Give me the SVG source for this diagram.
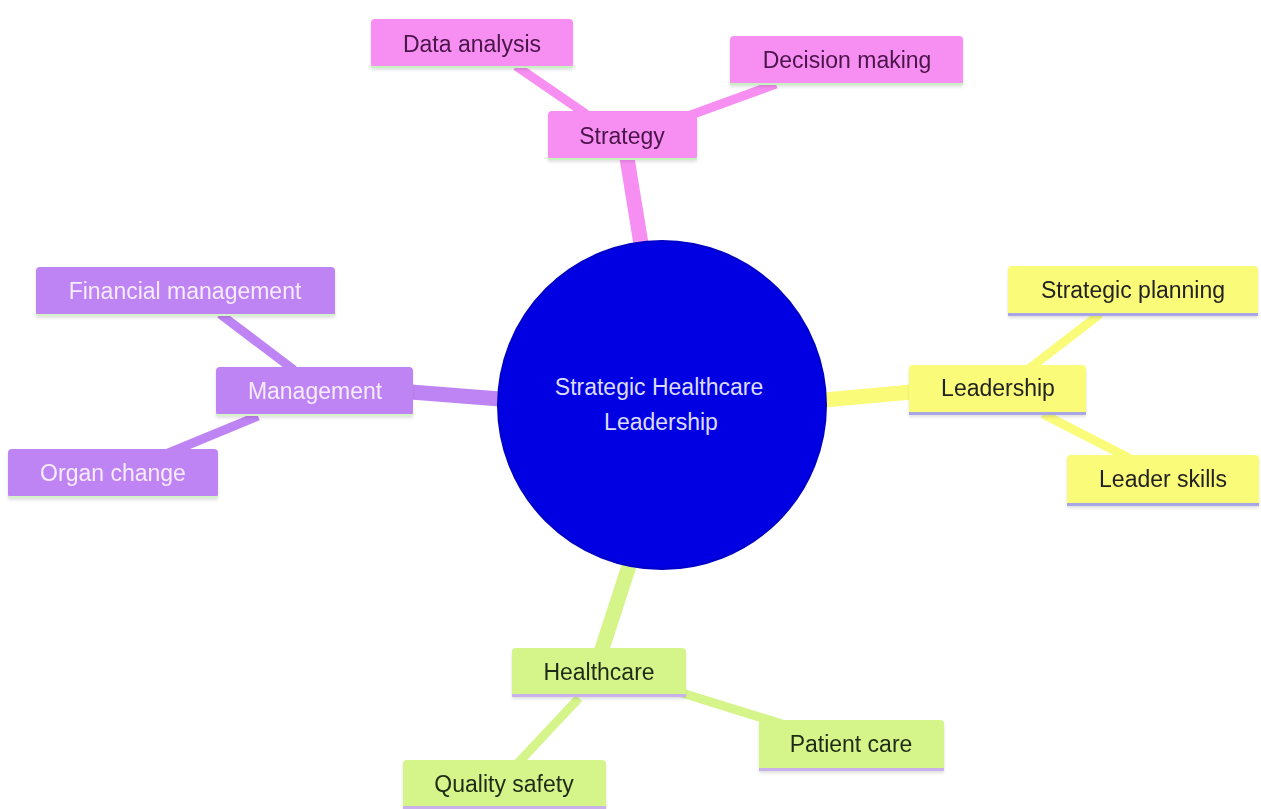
<svg xmlns="http://www.w3.org/2000/svg" width="1261" height="809" viewBox="0 0 1261 809">
<style>
  text { font-family: "Liberation Sans", Arial, sans-serif; font-size: 23px; text-anchor: middle; }
  .c1 { stroke-width: 15; stroke-linecap: butt; fill: none; }
  .c2 { stroke-width: 9; stroke-linecap: butt; fill: none; }
  .pink { fill: #f78ff2; }
  .pinkS { stroke: #f78ff2; }
  .pinkT { fill: #4a1248; }
  .purple { fill: #bf84f3; }
  .purpleS { stroke: #bf84f3; }
  .purpleT { fill: #f6ecff; }
  .yellow { fill: #fbfb7a; }
  .yellowS { stroke: #fbfb7a; }
  .yellowT { fill: #222222; }
  .green { fill: #d5f58b; }
  .greenS { stroke: #d5f58b; }
  .greenT { fill: #1e2a14; }
</style>
<defs>
  <filter id="sh" x="-10%" y="-20%" width="120%" height="150%">
    <feDropShadow dx="0" dy="2" stdDeviation="1.5" flood-color="#000" flood-opacity="0.12"/>
  </filter>
</defs>
<rect width="1261" height="809" fill="#ffffff"/>
<g id="connectors">
  <line class="c1 pinkS" x1="627" y1="158" x2="641" y2="244"/>
  <line class="c2 pinkS" x1="516" y1="66" x2="586" y2="114"/>
  <line class="c2 pinkS" x1="776" y1="84" x2="688" y2="116"/>
  <line class="c1 purpleS" x1="411" y1="392" x2="500" y2="399"/>
  <line class="c2 purpleS" x1="220" y1="314" x2="294" y2="370"/>
  <line class="c2 purpleS" x1="166" y1="454" x2="258" y2="416"/>
  <line class="c1 yellowS" x1="824" y1="400" x2="912" y2="392"/>
  <line class="c2 yellowS" x1="1100" y1="314" x2="1030" y2="368"/>
  <line class="c2 yellowS" x1="1043" y1="414" x2="1129" y2="458"/>
  <line class="c1 greenS" x1="629" y1="566" x2="601" y2="652"/>
  <line class="c2 greenS" x1="682" y1="693" x2="782" y2="724"/>
  <line class="c2 greenS" x1="579" y1="698" x2="517" y2="764"/>
</g>
<g id="root">
  <circle cx="662" cy="405" r="164" fill="#0000e2" stroke="#0000c8" stroke-width="2"/>
  <text x="659" y="395" fill="#dcdcff">Strategic Healthcare</text>
  <text x="661" y="430" fill="#dcdcff">Leadership</text>
</g>
<g id="strategy" filter="url(#sh)">
  <rect x="548" y="111" width="149" height="49" rx="4" class="pink"/>
  <rect x="548" y="158" width="149" height="2" fill="#c6f2bf"/>
  <text x="622" y="144" class="pinkT">Strategy</text>
</g>
<g id="data-analysis" filter="url(#sh)">
  <rect x="371" y="19" width="202" height="49" rx="4" class="pink"/>
  <rect x="371" y="66" width="202" height="2" fill="#c6f2bf"/>
  <text x="472" y="52" class="pinkT">Data analysis</text>
</g>
<g id="decision-making" filter="url(#sh)">
  <rect x="730" y="36" width="233" height="49" rx="4" class="pink"/>
  <rect x="730" y="83" width="233" height="2" fill="#c6f2bf"/>
  <text x="847" y="68" class="pinkT">Decision making</text>
</g>
<g id="management" filter="url(#sh)">
  <rect x="216" y="367" width="197" height="49" rx="4" class="purple"/>
  <rect x="216" y="414" width="197" height="2" fill="#d6f2c8"/>
  <text x="315" y="399" class="purpleT">Management</text>
</g>
<g id="financial-management" filter="url(#sh)">
  <rect x="36" y="267" width="299" height="49" rx="4" class="purple"/>
  <rect x="36" y="314" width="299" height="2" fill="#d6f2c8"/>
  <text x="185" y="299" class="purpleT">Financial management</text>
</g>
<g id="organ-change" filter="url(#sh)">
  <rect x="8" y="449" width="210" height="49" rx="4" class="purple"/>
  <rect x="8" y="496" width="210" height="2" fill="#d6f2c8"/>
  <text x="113" y="481" class="purpleT">Organ change</text>
</g>
<g id="leadership" filter="url(#sh)">
  <rect x="909" y="365" width="177" height="50" rx="4" class="yellow"/>
  <rect x="909" y="412" width="177" height="3" fill="#a9a6e6"/>
  <text x="998" y="396" class="yellowT">Leadership</text>
</g>
<g id="strategic-planning" filter="url(#sh)">
  <rect x="1008" y="266" width="250" height="50" rx="4" class="yellow"/>
  <rect x="1008" y="313" width="250" height="3" fill="#a9a6e6"/>
  <text x="1133" y="298" class="yellowT">Strategic planning</text>
</g>
<g id="leader-skills" filter="url(#sh)">
  <rect x="1067" y="455" width="192" height="51" rx="4" class="yellow"/>
  <rect x="1067" y="503" width="192" height="3" fill="#a9a6e6"/>
  <text x="1163" y="487" class="yellowT">Leader skills</text>
</g>
<g id="healthcare" filter="url(#sh)">
  <rect x="512" y="648" width="174" height="49" rx="4" class="green"/>
  <rect x="512" y="694" width="174" height="3" fill="#c9b2ec"/>
  <text x="599" y="680" class="greenT">Healthcare</text>
</g>
<g id="patient-care" filter="url(#sh)">
  <rect x="759" y="720" width="185" height="51" rx="4" class="green"/>
  <rect x="759" y="768" width="185" height="3" fill="#c9b2ec"/>
  <text x="851" y="752" class="greenT">Patient care</text>
</g>
<g id="quality-safety" filter="url(#sh)">
  <rect x="403" y="760" width="203" height="49" rx="4" class="green"/>
  <rect x="403" y="806" width="203" height="3" fill="#c9b2ec"/>
  <text x="504" y="792" class="greenT">Quality safety</text>
</g>
</svg>
